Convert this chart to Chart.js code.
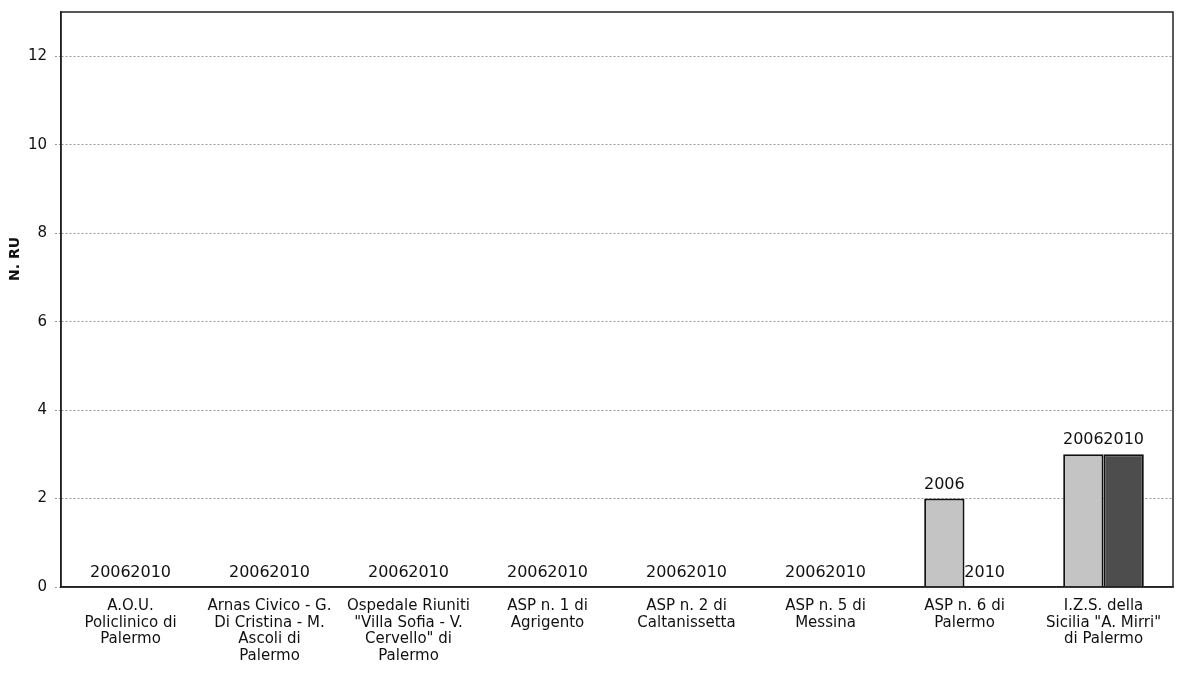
<!DOCTYPE html>
<html>
<head>
<meta charset="utf-8">
<script src="https://cdn.jsdelivr.net/npm/chart.js@4.4.0/dist/chart.umd.min.js"></script>
<style>
  html, body { margin: 0; padding: 0; background: #fff; }
  #wrap { width: 1178px; height: 686px; }
</style>
</head>
<body>
<div id="wrap"><canvas id="chart" width="1178" height="686"></canvas></div>
<script>
// Dati
const categorie = [
  ['A.O.U.', 'Policlinico di', 'Palermo'],
  ['Arnas Civico - G.', 'Di Cristina - M.', 'Ascoli di', 'Palermo'],
  ['Ospedale Riuniti', '"Villa Sofia - V.', 'Cervello" di', 'Palermo'],
  ['ASP n. 1 di', 'Agrigento'],
  ['ASP n. 2 di', 'Caltanissetta'],
  ['ASP n. 5 di', 'Messina'],
  ['ASP n. 6 di', 'Palermo'],
  ['I.Z.S. della', 'Sicilia "A. Mirri"', 'di Palermo']
];
const valori2006 = [0, 0, 0, 0, 0, 0, 2, 3];
const valori2010 = [0, 0, 0, 0, 0, 0, 0, 3];
const tickY = [0, 2, 4, 6, 8, 10, 12];
const titoloY = 'N. RU';

const FONT = 'DejaVu Sans';

// etichette: nome della serie sopra ogni barra
const labelPlugin = {
  id: 'serieLabels',
  afterDatasetsDraw(chart) {
    const ctx = chart.ctx;
    ctx.save();
    ctx.font = '16px ' + FONT;
    ctx.fillStyle = '#111';
    ctx.textAlign = 'center';
    ctx.textBaseline = 'bottom';
    chart.data.datasets.forEach((ds, i) => {
      chart.getDatasetMeta(i).data.forEach(bar => {
        ctx.fillText(ds.label, bar.x, bar.y - 6);
      });
    });
    ctx.restore();
  }
};

// cornice + titolo asse y
const framePlugin = {
  id: 'frame',
  afterDraw(chart) {
    const { ctx, chartArea: a } = chart;
    ctx.save();
    ctx.strokeStyle = '#222';
    ctx.lineWidth = 1.5;
    ctx.setLineDash([]);
    ctx.strokeRect(a.left, a.top, a.right - a.left, a.bottom - a.top);
    ctx.translate(15, 259);
    ctx.rotate(-Math.PI / 2);
    ctx.font = 'bold 14px ' + FONT;
    ctx.fillStyle = '#111';
    ctx.textAlign = 'center';
    ctx.textBaseline = 'middle';
    ctx.fillText(titoloY, 0, 0);
    ctx.restore();
  }
};

const bgPlugin = {
  id: 'bg',
  beforeDraw(chart) {
    const ctx = chart.ctx;
    ctx.save();
    ctx.fillStyle = '#fff';
    ctx.fillRect(0, 0, chart.width, chart.height);
    ctx.restore();
  }
};

new Chart(document.getElementById('chart'), {
  type: 'bar',
  data: {
    labels: categorie,
    datasets: [
      { label: '2006', data: valori2006, backgroundColor: '#c4c4c4', borderColor: '#111', borderWidth: 2 },
      { label: '2010', data: valori2010, backgroundColor: '#4d4d4d', borderColor: '#111', borderWidth: 2 }
    ]
  },
  options: {
    responsive: false,
    animation: false,
    layout: { padding: { top: 12, right: 5, left: 0, bottom: 0 } },
    categoryPercentage: 0.58,
    barPercentage: 1,
    plugins: { legend: { display: false }, tooltip: { enabled: false } },
    scales: {
      x: {
        grid: { display: false },
        border: { color: '#222', width: 1.5 },
        ticks: {
          color: '#111', font: { family: FONT, size: 15, lineHeight: 1.1 },
          padding: 3, maxRotation: 0, autoSkip: false
        },
        afterFit(s) { s.height = 99; s.paddingLeft = 0; s.paddingRight = 0; }
      },
      y: {
        min: 0, max: 13,
        afterBuildTicks(s) { s.ticks = tickY.map(v => ({ value: v })); },
        grid: { color: '#999', lineWidth: 1, tickLength: 6, tickBorderDash: [2, 2] },
        border: { color: '#222', width: 1.5, dash: [2, 2] },
        ticks: { color: '#111', font: { family: FONT, size: 15 }, padding: 8 },
        afterFit(s) { s.width = 61; s.paddingTop = 0; s.paddingBottom = 0; }
      }
    }
  },
  plugins: [bgPlugin, labelPlugin, framePlugin]
});
</script>
</body>
</html>
